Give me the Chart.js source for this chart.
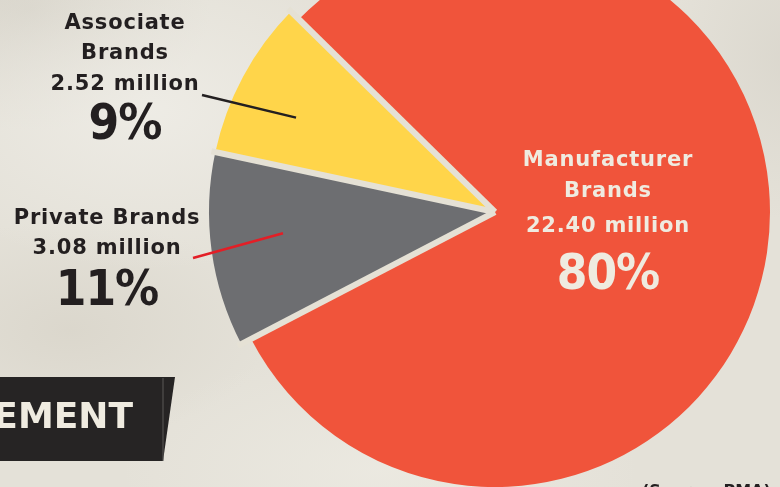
<!DOCTYPE html>
<html>
<head>
<meta charset="utf-8">
<title>Brand share</title>
<script src="https://cdn.jsdelivr.net/npm/chart.js@4.4.0/dist/chart.umd.min.js"></script>
<style>
  html, body { margin: 0; padding: 0; }
  body {
    width: 780px;
    height: 487px;
    overflow: hidden;
    background-color: #E4E1D8;
    background-image:
      radial-gradient(ellipse 260px 160px at 150px 110px, rgba(240, 238, 232, 0.8), rgba(240, 238, 232, 0) 100%),
      radial-gradient(ellipse 180px 120px at 30px 10px, rgba(205, 201, 190, 0.55), rgba(205, 201, 190, 0) 100%),
      radial-gradient(ellipse 200px 110px at 70px 330px, rgba(210, 205, 193, 0.5), rgba(210, 205, 193, 0) 100%),
      radial-gradient(ellipse 260px 120px at 380px 470px, rgba(238, 236, 228, 0.7), rgba(238, 236, 228, 0) 100%),
      radial-gradient(ellipse 120px 160px at 790px 60px, rgba(210, 206, 196, 0.5), rgba(210, 206, 196, 0) 100%);
  }
  #wrap { position: relative; width: 780px; height: 487px; }
  #pie { position: absolute; left: 0; top: 0; }
</style>
</head>
<body>
<div id="wrap"><canvas id="pie" width="780" height="487"></canvas></div>
<script>
// retail unit share by brand type (millions of units)
const brandNames = ['Manufacturer Brands', 'Private Brands', 'Associate Brands'];
const brandLines = [['Manufacturer', 'Brands'], ['Private Brands'], ['Associate', 'Brands']];
const unitsMillions = [22.40, 3.08, 2.52];
const sliceColors = ['#F0543B', '#6D6E71', '#FFD54A'];
// the two small slices stick out past the big one
const sliceReach = [275, 286, 286];

const ink = '#231F20';
const cream = '#EFEBE0';
const gapColor = '#E5E1D5';

// label blocks: text centre x, line baselines, percent baseline,
// leader = outer end point plus where it lands inside the slice (angle and radius fractions)
const labelSpots = [
  { x: 608, lines: [166, 197, 232], pct: 289, color: cream, leader: null },
  { x: 107, lines: [224, 254], pct: 305, color: ink,
    leader: { x: 193, y: 258, at: 0.55, r: 0.745, color: '#E31E26' } },
  { x: 125, lines: [29, 59, 90], pct: 139, color: ink,
    leader: { x: 202, y: 95, at: 0.41, r: 0.77, color: ink } }
];

const total = unitsMillions.reduce((a, b) => a + b, 0);

const reachPlugin = {
  id: 'sliceReach',
  beforeDatasetsDraw(chart) {
    chart.getDatasetMeta(0).data.forEach((arc, i) => { arc.outerRadius = sliceReach[i]; });
  }
};

// beige gaps between the slices, drawn along each slice edge
const gapPlugin = {
  id: 'sliceGaps',
  afterDatasetsDraw(chart) {
    const ctx = chart.ctx;
    const arcs = chart.getDatasetMeta(0).data;
    const r = Math.max(...sliceReach) + 4;
    ctx.save();
    ctx.strokeStyle = gapColor;
    ctx.lineWidth = 6;
    ctx.lineCap = 'butt';
    arcs.forEach(arc => {
      ctx.beginPath();
      ctx.moveTo(arc.x, arc.y);
      ctx.lineTo(arc.x + Math.cos(arc.startAngle) * r, arc.y + Math.sin(arc.startAngle) * r);
      ctx.stroke();
    });
    ctx.restore();
  }
};

const labelPlugin = {
  id: 'sliceLabels',
  afterDatasetsDraw(chart) {
    const ctx = chart.ctx;
    const arcs = chart.getDatasetMeta(0).data;
    ctx.save();
    labelSpots.forEach((spot, i) => {
      if (spot.leader) {
        const arc = arcs[i];
        const a = arc.startAngle + (arc.endAngle - arc.startAngle) * spot.leader.at;
        const r = arc.outerRadius * spot.leader.r;
        ctx.beginPath();
        ctx.moveTo(spot.leader.x, spot.leader.y);
        ctx.lineTo(arc.x + Math.cos(a) * r, arc.y + Math.sin(a) * r);
        ctx.strokeStyle = spot.leader.color;
        ctx.lineWidth = 2.5;
        ctx.stroke();
      }
      ctx.fillStyle = spot.color;
      ctx.textAlign = 'center';
      ctx.textBaseline = 'alphabetic';
      ctx.font = 'bold 21px "DejaVu Sans", sans-serif';
      ctx.letterSpacing = '0.8px';
      const text = brandLines[i].concat(unitsMillions[i].toFixed(2) + ' million');
      text.forEach((t, k) => ctx.fillText(t, spot.x, spot.lines[k]));
      ctx.font = 'bold 49px "DejaVu Sans Condensed", "DejaVu Sans", sans-serif';
      ctx.letterSpacing = '-1px';
      ctx.fillText(Math.round(unitsMillions[i] / total * 100) + '%', spot.x, spot.pct);
    });
    ctx.restore();
  }
};

// black ribbon heading bottom-left and the source note
const decorPlugin = {
  id: 'decor',
  afterDraw(chart) {
    const ctx = chart.ctx;
    ctx.save();
    ctx.beginPath();
    ctx.moveTo(0, 377);
    ctx.lineTo(175, 377);
    ctx.lineTo(163, 461);
    ctx.lineTo(0, 461);
    ctx.closePath();
    ctx.fillStyle = '#262424';
    ctx.fill();
    ctx.beginPath();
    ctx.moveTo(163, 378);
    ctx.lineTo(163, 461);
    ctx.strokeStyle = '#5A5856';
    ctx.lineWidth = 1;
    ctx.stroke();

    ctx.fillStyle = cream;
    ctx.font = 'bold 36px "DejaVu Sans", sans-serif';
    ctx.textAlign = 'right';
    ctx.textBaseline = 'alphabetic';
    ctx.fillText('CEMENT', 133, 428);

    ctx.fillStyle = ink;
    ctx.font = 'bold 16px "DejaVu Sans", sans-serif';
    ctx.textAlign = 'left';
    ctx.textBaseline = 'top';
    ctx.fillText('(Source: PMA)', 642, 484);
    ctx.restore();
  }
};

new Chart(document.getElementById('pie'), {
  type: 'pie',
  data: {
    labels: brandNames,
    datasets: [{
      data: unitsMillions,
      backgroundColor: sliceColors,
      borderWidth: 0,
      clip: false
    }]
  },
  options: {
    responsive: false,
    animation: false,
    rotation: 314.5,
    radius: 275,
    layout: { padding: { left: 210, right: 0, top: 0, bottom: 63 } },
    plugins: {
      legend: { display: false },
      tooltip: { enabled: false }
    }
  },
  plugins: [reachPlugin, gapPlugin, labelPlugin, decorPlugin]
});
</script>
</body>
</html>
